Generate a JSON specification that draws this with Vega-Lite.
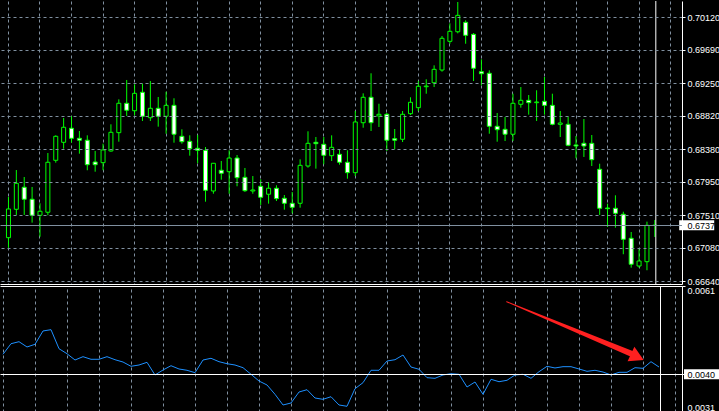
{
  "$schema": "https://vega.github.io/schema/vega-lite/v6.json",
  "background": "black",
  "padding": 0,
  "spacing": 2,
  "bounds": "flush",
  "config": {
    "view": {"stroke": null},
    "axis": {"labelFont": "Liberation Sans", "labelFontSize": 9, "labelColor": "white", "domainColor": "white", "tickColor": "white", "domainWidth": 1}
  },
  "datasets": {
    "candles": [
      {"k":0,"o":0.67214,"h":0.67750,"l":0.67082,"c":0.67592},
      {"k":1,"o":0.67588,"h":0.68105,"l":0.67513,"c":0.67930},
      {"k":2,"o":0.67878,"h":0.68013,"l":0.67513,"c":0.67720},
      {"k":3,"o":0.67720,"h":0.67882,"l":0.67412,"c":0.67509},
      {"k":4,"o":0.67509,"h":0.67667,"l":0.67227,"c":0.67562},
      {"k":5,"o":0.67549,"h":0.68329,"l":0.67509,"c":0.68207},
      {"k":6,"o":0.68233,"h":0.68562,"l":0.68202,"c":0.68549},
      {"k":7,"o":0.68470,"h":0.68790,"l":0.68386,"c":0.68668},
      {"k":8,"o":0.68655,"h":0.68813,"l":0.68465,"c":0.68523},
      {"k":9,"o":0.68523,"h":0.68619,"l":0.68320,"c":0.68497},
      {"k":10,"o":0.68497,"h":0.68562,"l":0.68102,"c":0.68175},
      {"k":11,"o":0.68211,"h":0.68356,"l":0.68083,"c":0.68175},
      {"k":12,"o":0.68202,"h":0.68452,"l":0.68102,"c":0.68369},
      {"k":13,"o":0.68356,"h":0.68707,"l":0.68346,"c":0.68602},
      {"k":14,"o":0.68597,"h":0.69036,"l":0.68478,"c":0.68984},
      {"k":15,"o":0.68984,"h":0.69291,"l":0.68817,"c":0.68892},
      {"k":16,"o":0.68886,"h":0.69234,"l":0.68826,"c":0.69115},
      {"k":17,"o":0.69129,"h":0.69242,"l":0.68751,"c":0.68813},
      {"k":18,"o":0.68794,"h":0.69277,"l":0.68751,"c":0.68918},
      {"k":19,"o":0.68918,"h":0.69067,"l":0.68676,"c":0.68813},
      {"k":20,"o":0.68813,"h":0.69136,"l":0.68583,"c":0.68957},
      {"k":21,"o":0.68957,"h":0.69050,"l":0.68465,"c":0.68576},
      {"k":22,"o":0.68549,"h":0.68641,"l":0.68452,"c":0.68478},
      {"k":23,"o":0.68483,"h":0.68562,"l":0.68294,"c":0.68386},
      {"k":24,"o":0.68391,"h":0.68566,"l":0.68194,"c":0.68365},
      {"k":25,"o":0.68365,"h":0.68408,"l":0.67688,"c":0.67838},
      {"k":26,"o":0.67829,"h":0.68198,"l":0.67793,"c":0.68194},
      {"k":27,"o":0.68102,"h":0.68224,"l":0.67978,"c":0.68062},
      {"k":28,"o":0.68083,"h":0.68365,"l":0.67793,"c":0.68263},
      {"k":29,"o":0.68263,"h":0.68303,"l":0.67891,"c":0.68004},
      {"k":30,"o":0.68009,"h":0.68132,"l":0.67816,"c":0.67833},
      {"k":31,"o":0.67829,"h":0.68026,"l":0.67793,"c":0.67842},
      {"k":32,"o":0.67891,"h":0.67983,"l":0.67645,"c":0.67746},
      {"k":33,"o":0.67786,"h":0.67944,"l":0.67662,"c":0.67865},
      {"k":34,"o":0.67865,"h":0.67904,"l":0.67697,"c":0.67728},
      {"k":35,"o":0.67733,"h":0.67776,"l":0.67583,"c":0.67667},
      {"k":36,"o":0.67667,"h":0.67816,"l":0.67535,"c":0.67614},
      {"k":37,"o":0.67667,"h":0.68246,"l":0.67609,"c":0.68167},
      {"k":38,"o":0.68158,"h":0.68615,"l":0.68136,"c":0.68457},
      {"k":39,"o":0.68470,"h":0.68540,"l":0.68123,"c":0.68452},
      {"k":40,"o":0.68444,"h":0.68540,"l":0.68181,"c":0.68299},
      {"k":41,"o":0.68294,"h":0.68562,"l":0.68224,"c":0.68404},
      {"k":42,"o":0.68312,"h":0.68378,"l":0.68175,"c":0.68207},
      {"k":43,"o":0.68207,"h":0.68365,"l":0.67991,"c":0.68070},
      {"k":44,"o":0.68070,"h":0.68882,"l":0.68026,"c":0.68738},
      {"k":45,"o":0.68728,"h":0.69115,"l":0.68662,"c":0.69063},
      {"k":46,"o":0.69063,"h":0.69379,"l":0.68619,"c":0.68728},
      {"k":47,"o":0.68817,"h":0.68978,"l":0.68672,"c":0.68839},
      {"k":48,"o":0.68839,"h":0.68856,"l":0.68356,"c":0.68497},
      {"k":49,"o":0.68518,"h":0.68645,"l":0.68378,"c":0.68497},
      {"k":50,"o":0.68510,"h":0.68882,"l":0.68474,"c":0.68839},
      {"k":51,"o":0.68847,"h":0.69063,"l":0.68830,"c":0.68997},
      {"k":52,"o":0.68926,"h":0.69277,"l":0.68882,"c":0.69208},
      {"k":53,"o":0.69202,"h":0.69300,"l":0.69110,"c":0.69211},
      {"k":54,"o":0.69255,"h":0.69484,"l":0.69198,"c":0.69431},
      {"k":55,"o":0.69422,"h":0.69870,"l":0.69400,"c":0.69840},
      {"k":56,"o":0.69800,"h":0.70037,"l":0.69768,"c":0.69932},
      {"k":57,"o":0.69926,"h":0.70318,"l":0.69905,"c":0.70142},
      {"k":58,"o":0.70050,"h":0.70077,"l":0.69768,"c":0.69879},
      {"k":59,"o":0.69892,"h":0.69909,"l":0.69277,"c":0.69445},
      {"k":60,"o":0.69400,"h":0.69563,"l":0.69221,"c":0.69373},
      {"k":61,"o":0.69379,"h":0.69418,"l":0.68583,"c":0.68681},
      {"k":62,"o":0.68681,"h":0.68856,"l":0.68478,"c":0.68636},
      {"k":63,"o":0.68641,"h":0.68803,"l":0.68487,"c":0.68576},
      {"k":64,"o":0.68576,"h":0.69110,"l":0.68487,"c":0.68984},
      {"k":65,"o":0.68971,"h":0.69198,"l":0.68926,"c":0.69023},
      {"k":66,"o":0.69023,"h":0.69093,"l":0.68834,"c":0.68992},
      {"k":67,"o":0.68992,"h":0.69155,"l":0.68751,"c":0.69001},
      {"k":68,"o":0.69010,"h":0.69330,"l":0.68834,"c":0.68957},
      {"k":69,"o":0.68957,"h":0.69110,"l":0.68694,"c":0.68707},
      {"k":70,"o":0.68707,"h":0.68882,"l":0.68540,"c":0.68724},
      {"k":71,"o":0.68707,"h":0.68807,"l":0.68418,"c":0.68431},
      {"k":72,"o":0.68435,"h":0.68553,"l":0.68259,"c":0.68421},
      {"k":73,"o":0.68457,"h":0.68777,"l":0.68277,"c":0.68421},
      {"k":74,"o":0.68457,"h":0.68566,"l":0.68158,"c":0.68241},
      {"k":75,"o":0.68115,"h":0.68188,"l":0.67513,"c":0.67601},
      {"k":76,"o":0.67605,"h":0.67662,"l":0.67355,"c":0.67596},
      {"k":77,"o":0.67601,"h":0.67772,"l":0.67346,"c":0.67535},
      {"k":78,"o":0.67522,"h":0.67556,"l":0.66996,"c":0.67193},
      {"k":79,"o":0.67206,"h":0.67289,"l":0.66819,"c":0.66864},
      {"k":80,"o":0.66841,"h":0.67061,"l":0.66819,"c":0.66907},
      {"k":81,"o":0.66898,"h":0.67425,"l":0.66785,"c":0.67377},
      {"k":82,"o":0.67377,"h":0.67447,"l":0.67223,"c":0.67378}
    ],
    "ind": [
      {"k":0,"v":0.004474},{"k":1,"v":0.004726},{"k":2,"v":0.004774},{"k":3,"v":0.004648},{"k":4,"v":0.004712},
      {"k":5,"v":0.005029},{"k":6,"v":0.00506},{"k":7,"v":0.004607},{"k":8,"v":0.004488},{"k":9,"v":0.004338},
      {"k":10,"v":0.004417},{"k":11,"v":0.004355},{"k":12,"v":0.004355},{"k":13,"v":0.004417},{"k":14,"v":0.004345},
      {"k":15,"v":0.00429},{"k":16,"v":0.004188},{"k":17,"v":0.004219},{"k":18,"v":0.004283},{"k":19,"v":0.003981},
      {"k":20,"v":0.0041},{"k":21,"v":0.004202},{"k":22,"v":0.004124},{"k":23,"v":0.004093},{"k":24,"v":0.004036},
      {"k":25,"v":0.004338},{"k":26,"v":0.004379},{"k":27,"v":0.004298},{"k":28,"v":0.00425},{"k":29,"v":0.004219},
      {"k":30,"v":0.004155},{"k":31,"v":0.003998},{"k":32,"v":0.003838},{"k":33,"v":0.003743},{"k":34,"v":0.003521},
      {"k":35,"v":0.003267},{"k":36,"v":0.003314},{"k":37,"v":0.003576},{"k":38,"v":0.003631},{"k":39,"v":0.003433},
      {"k":40,"v":0.003402},{"k":41,"v":0.003464},{"k":42,"v":0.003267},{"k":43,"v":0.003236},{"k":44,"v":0.003655},
      {"k":45,"v":0.003798},{"k":46,"v":0.004093},{"k":47,"v":0.004093},{"k":48,"v":0.004314},{"k":49,"v":0.004345},
      {"k":50,"v":0.004457},{"k":51,"v":0.004171},{"k":52,"v":0.004117},{"k":53,"v":0.003917},{"k":54,"v":0.003902},
      {"k":55,"v":0.003981},{"k":56,"v":0.004012},{"k":57,"v":0.003998},{"k":58,"v":0.003695},{"k":59,"v":0.003814},
      {"k":60,"v":0.003521},{"k":61,"v":0.003879},{"k":62,"v":0.003821},{"k":63,"v":0.003855},{"k":64,"v":0.003981},
      {"k":65,"v":0.003998},{"k":66,"v":0.003902},{"k":67,"v":0.00406},{"k":68,"v":0.004188},{"k":69,"v":0.004148},
      {"k":70,"v":0.004179},{"k":71,"v":0.004179},{"k":72,"v":0.004124},{"k":73,"v":0.004069},{"k":74,"v":0.004093},
      {"k":75,"v":0.004052},{"k":76,"v":0.003981},{"k":77,"v":0.004045},{"k":78,"v":0.004045},{"k":79,"v":0.004155},
      {"k":80,"v":0.00414},{"k":81,"v":0.004298},{"k":82,"v":0.004171}
    ]
  },
  "vconcat": [
    {
      "width": 682,
      "height": 283,
      "layer": [
        {
          "data": {"name": "candles"},
          "mark": {"type": "rule", "color": "#00FF00", "strokeWidth": 1, "xOffset": 0.5},
          "encoding": {
            "x": {"field": "k", "type": "quantitative",
              "scale": {"domain": [-0.375, 84.875], "nice": false, "zero": false},
              "axis": {"orient": "bottom", "values": [0,4,8,12,16,20,24,28,32,36,40,44,48,52,56,60,64,68,72,76,80,84], "tickCount": 200,
                "labels": false, "ticks": false, "title": null, "grid": true, "gridColor": "#8090A0", "gridDash": [3,3], "gridWidth": 1}},
            "y": {"field": "l", "type": "quantitative",
              "scale": {"domain": [0.66604, 0.70331], "nice": false, "zero": false},
              "axis": {"orient": "right", "title": null, "tickCount": 200,
                "values": [0.7012, 0.6969, 0.6925, 0.6882, 0.6838, 0.6795, 0.6751, 0.6708, 0.6664, 0.67378],
                "format": ".5f", "grid": true, "gridColor": "#8090A0", "gridWidth": 1,
                "gridDash": {"condition": {"test": "abs(datum.value-0.67378)<0.000001", "value": []}, "value": [3,3]},
                "labelColor": {"condition": {"test": "abs(datum.value-0.67378)<0.000001", "value": "black"}, "value": "white"},
                "tickSize": 3, "labelPadding": 2, "labelOverlap": false, "labelBound": false, "zindex": 1}},
            "y2": {"field": "h"}
          }
        },
        {
          "data": {"name": "candles"},
          "mark": {"type": "bar", "size": 4, "stroke": "#00FF00", "strokeWidth": 1, "xOffset": 0.5},
          "encoding": {
            "x": {"field": "k", "type": "quantitative"},
            "y": {"field": "o", "type": "quantitative"},
            "y2": {"field": "c"},
            "fill": {"condition": {"test": "datum.c > datum.o", "value": "black"}, "value": "white"}
          }
        },
        {
          "data": {"values": [{"k": 82.125}]},
          "mark": {"type": "rule", "color": "white", "strokeWidth": 1, "xOffset": 0.5},
          "encoding": {"x": {"field": "k", "type": "quantitative"}}
        },
        {
          "data": {"values": [{"k": 87.375, "l": 0.67378}]},
          "mark": {"type": "tick", "orient": "horizontal", "color": "white", "size": 35, "thickness": 10, "opacity": 1},
          "encoding": {"x": {"field": "k", "type": "quantitative"}, "y": {"field": "l", "type": "quantitative"}}
        }
      ]
    },
    {
      "width": 682,
      "height": 126,
      "layer": [
        {
          "data": {"name": "ind"},
          "mark": {"type": "line", "color": "#1E90FF", "strokeWidth": 1},
          "encoding": {
            "x": {"field": "k", "type": "quantitative",
              "scale": {"domain": [-0.375, 84.875], "nice": false, "zero": false},
              "axis": {"orient": "top", "values": [0,4,8,12,16,20,24,28,32,36,40,44,48,52,56,60,64,68,72,76,80,84], "tickCount": 200,
                "labels": false, "ticks": false, "title": null, "grid": true, "gridColor": "#8090A0", "gridDash": [3,3], "gridWidth": 1}},
            "y": {"field": "v", "type": "quantitative",
              "scale": {"domain": [0.0031, 0.0061], "nice": false, "zero": false},
              "axis": {"orient": "right", "title": null, "values": [0.0061, 0.004, 0.0031], "tickCount": 200, "format": ".4f",
                "grid": true, "gridWidth": 1,
                "gridColor": {"condition": {"test": "abs(datum.value-0.004)<0.0000001", "value": "white"}, "value": "black"},
                "gridOpacity": {"condition": {"test": "abs(datum.value-0.004)<0.0000001", "value": 1}, "value": 0},
                "labelColor": {"condition": {"test": "abs(datum.value-0.004)<0.0000001", "value": "black"}, "value": "white"},
                "labelFlush": true, "tickSize": 3, "labelPadding": 2, "labelOverlap": false, "labelBound": false, "zindex": 1}}
          }
        },
        {
          "data": {"values": [{"k": 82.125}]},
          "mark": {"type": "rule", "color": "white", "strokeWidth": 1, "xOffset": 0.5},
          "encoding": {"x": {"field": "k", "type": "quantitative"}}
        },
        {
          "data": {"values": [{"k": 87.375, "v": 0.004}]},
          "mark": {"type": "tick", "orient": "horizontal", "color": "white", "size": 36, "thickness": 10, "opacity": 1},
          "encoding": {"x": {"field": "k", "type": "quantitative"}, "y": {"field": "v", "type": "quantitative"}}
        },
        {
          "data": {"values": [{"k": 62.96, "v": 0.005726}, {"k": 78.64, "v": 0.00448}]},
          "mark": {"type": "trail", "color": "#FF2020"},
          "encoding": {
            "x": {"field": "k", "type": "quantitative"},
            "y": {"field": "v", "type": "quantitative"},
            "size": {"field": "k", "type": "quantitative", "scale": {"domain": [62.96, 78.64], "range": [1, 6]}, "legend": null}
          }
        },
        {
          "data": {"values": [{"k": 79.29, "v": 0.00441}]},
          "mark": {"type": "point", "shape": "triangle-right", "filled": true, "color": "#FF2020", "opacity": 1, "size": 260, "angle": 25},
          "encoding": {"x": {"field": "k", "type": "quantitative"}, "y": {"field": "v", "type": "quantitative"}}
        }
      ]
    }
  ]
}
